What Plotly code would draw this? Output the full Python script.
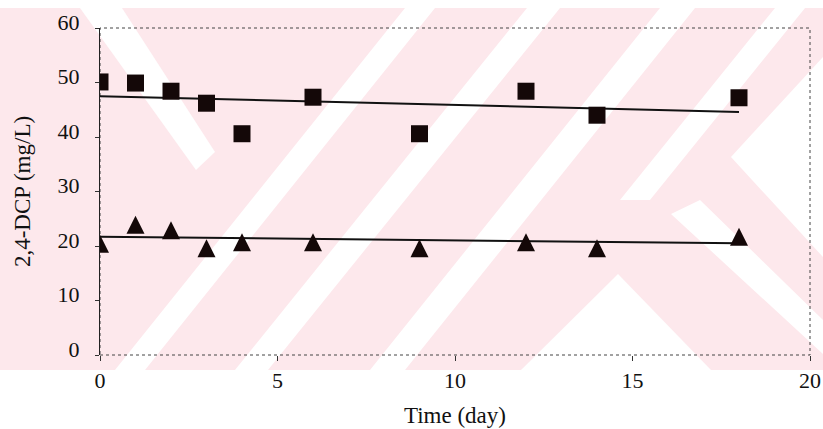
import plotly.graph_objects as go

# ---- data ----
time_sq = [0, 1, 2, 3, 4, 6, 9, 12, 14, 18]
dcp_sq = [50.1, 49.9, 48.4, 46.2, 40.6, 47.3, 40.6, 48.4, 44.0, 47.2]
time_tri = [0, 1, 2, 3, 4, 6, 9, 12, 14, 18]
dcp_tri = [20.4, 23.9, 22.9, 19.6, 20.7, 20.7, 19.6, 20.7, 19.6, 21.7]
trend_x = [0, 18]
trend_sq = [47.5, 44.6]
trend_tri = [21.7, 20.5]
x_ticks = [0, 5, 10, 15, 20]
y_ticks = [0, 10, 20, 30, 40, 50, 60]

W, H = 823, 429
ML, MR, MT, MB = 100, 13, 28, 74
PW, PH = W - ML - MR, H - MT - MB


def to_paper(pts):
    s = ""
    for i, (px, py) in enumerate(pts):
        xp = (px - ML) / PW
        yp = 1 - (py - MT) / PH
        s += ("M" if i == 0 else "L") + f"{xp:.4f},{yp:.4f}"
    return s + "Z"


PINK = "#fde8ec"
shapes = []
# faint watermark of the scanned page
shapes.append(dict(type="path", xref="paper", yref="paper", layer="below",
                   path=to_paper([(0, 8), (823, 8), (823, 370), (0, 370)]),
                   fillcolor=PINK, line=dict(width=0)))
white_polys = []
for b0, b1, t0, t1 in [(115, 145, 405, 435), (235, 268, 527, 560), (370, 405, 660, 695)]:
    white_polys.append([(t0, 8), (t1, 8), (b1, 370), (b0, 370)])
white_polys.append([(775, 8), (805, 8), (650, 200), (620, 200)])
white_polys.append([(80, 8), (122, 8), (215, 152), (196, 170)])
white_polys.append([(618, 274), (521, 370), (711, 370)])
white_polys.append([(823, 57), (731, 157), (823, 257)])
white_polys.append([(671, 214), (700, 200), (823, 320), (823, 354)])
for p in white_polys:
    shapes.append(dict(type="path", xref="paper", yref="paper", layer="below",
                       path=to_paper(p), fillcolor="white", line=dict(width=0)))
# dotted frame
shapes.append(dict(type="rect", xref="paper", yref="paper", x0=0, x1=1, y0=0, y1=1,
                   layer="below", line=dict(color="#444", width=1, dash="dot")))

fig = go.Figure()
fig.add_trace(go.Scatter(x=trend_x, y=trend_sq, mode="lines",
                         line=dict(color="#111", width=2), showlegend=False))
fig.add_trace(go.Scatter(x=trend_x, y=trend_tri, mode="lines",
                         line=dict(color="#111", width=2), showlegend=False))
fig.add_trace(go.Scatter(x=time_sq, y=dcp_sq, mode="markers",
                         marker=dict(symbol="square", size=17, color="#140808"),
                         showlegend=False))
fig.add_trace(go.Scatter(x=time_tri, y=dcp_tri, mode="markers",
                         marker=dict(symbol="arrow-down", angle=180, standoff=9,
                                     size=18, color="#140808",
                                     line=dict(width=0)),
                         showlegend=False))

font = dict(family="Liberation Serif", size=22, color="#111")
title_font = dict(family="Liberation Serif", size=23, color="#111")
fig.update_layout(
    width=W, height=H,
    margin=dict(l=ML, r=MR, t=MT, b=MB, autoexpand=False),
    paper_bgcolor="white", plot_bgcolor="rgba(0,0,0,0)",
    shapes=shapes, font=font,
    xaxis=dict(range=[0, 20], tickvals=x_ticks, showgrid=False, zeroline=False,
               showline=False, ticks="outside", ticklen=5, tickcolor="#333",
               ticklabelstandoff=1, automargin=False,
               title=dict(text="Time (day)", standoff=14, font=title_font)),
    yaxis=dict(range=[0, 60], tickvals=y_ticks, showgrid=False, zeroline=False,
               showline=True, linecolor="#222", linewidth=1.2,
               ticks="outside", ticklen=4, tickcolor="#333",
               ticklabelstandoff=11, ticklabelshift=-6, automargin=False,
               title=dict(text="2,4-DCP (mg/L)", standoff=20, font=title_font)),
)
fig.write_html("out.html")
